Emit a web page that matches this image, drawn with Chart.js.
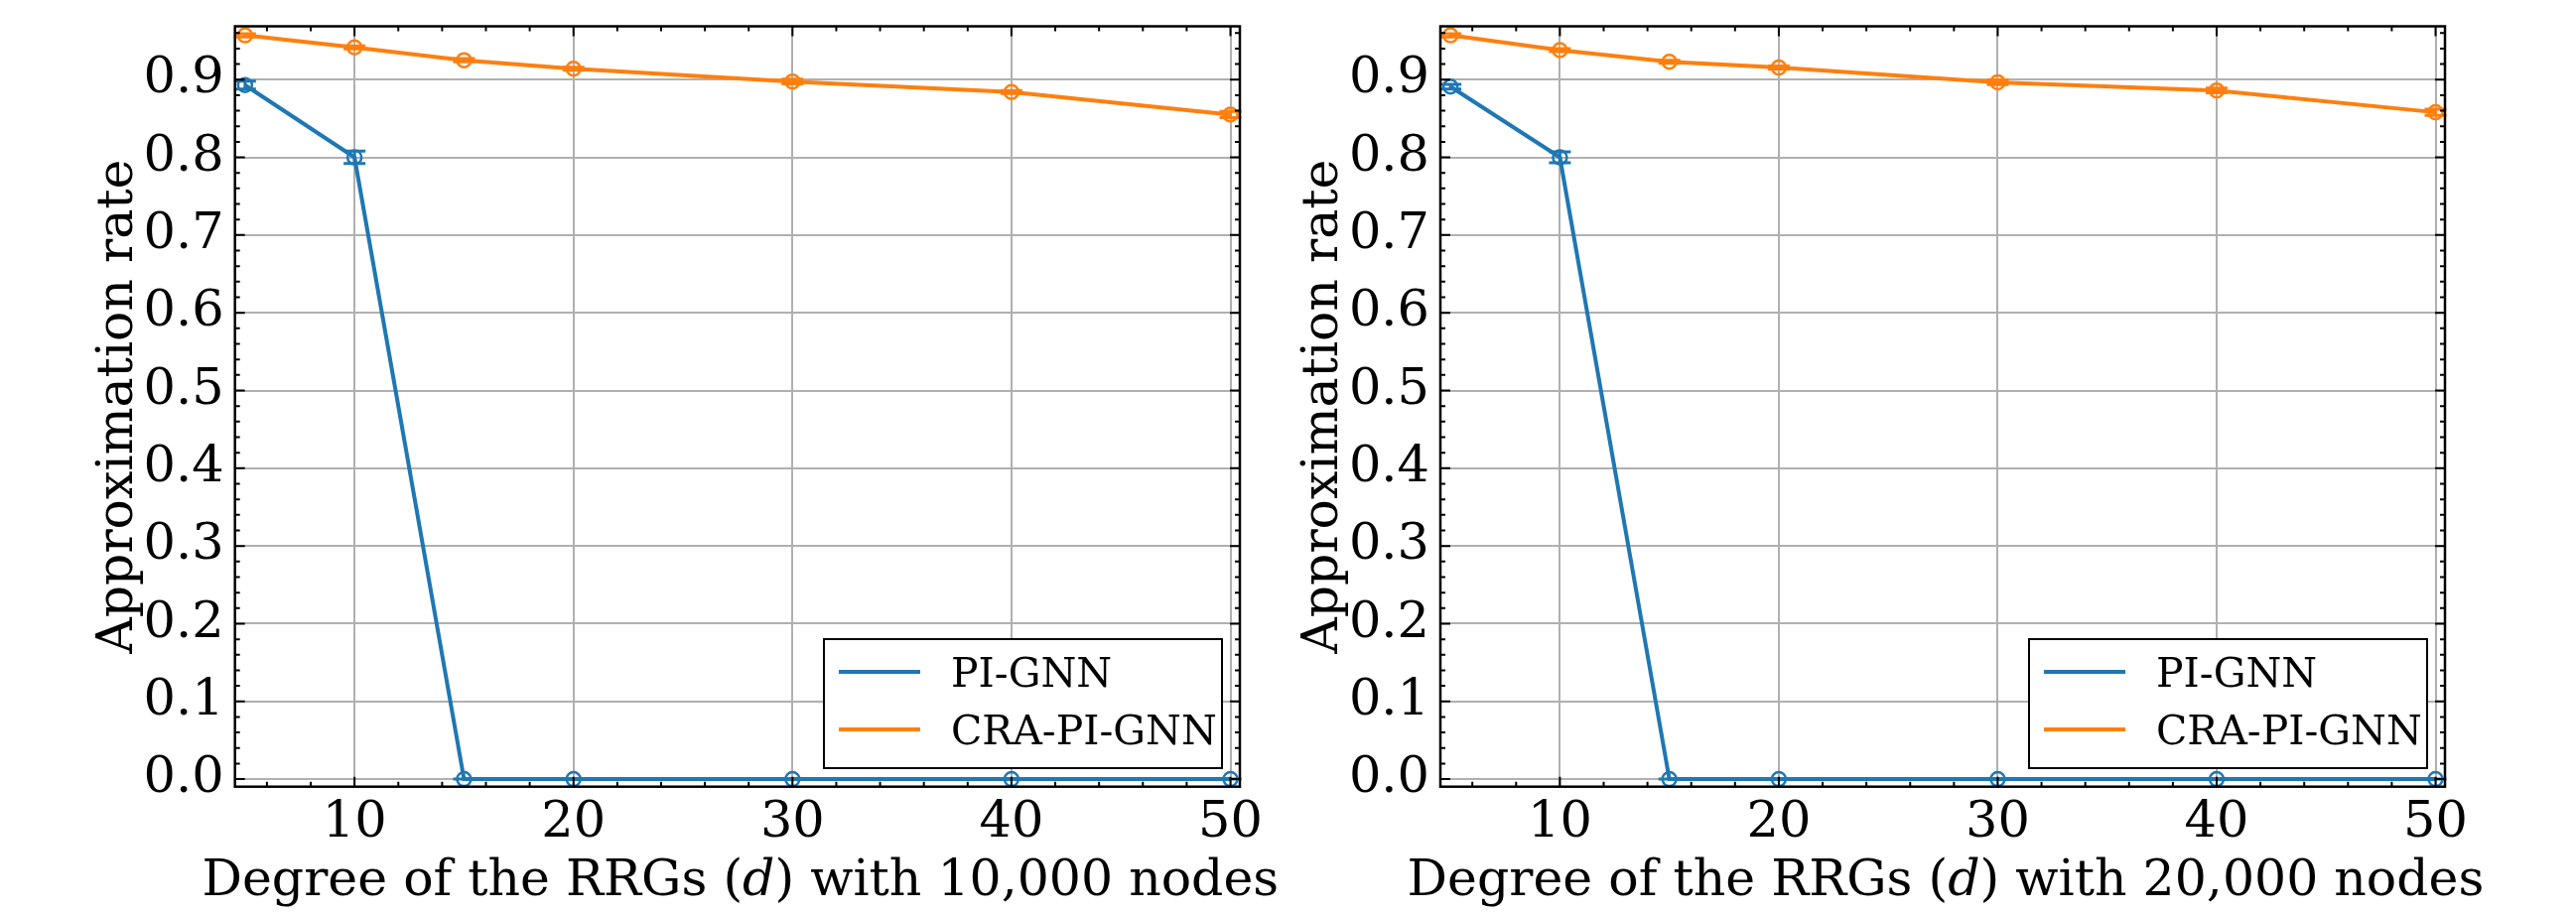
<!DOCTYPE html>
<html>
<head>
<meta charset="utf-8">
<script src="https://cdn.jsdelivr.net/npm/chart.js@4.4.1/dist/chart.umd.min.js"></script>
<style>
html, body { margin: 0; padding: 0; background: #fff; }
#wrap { position: relative; width: 2595px; height: 922px; }
canvas { position: absolute; top: 0; }
</style>
</head>
<body>
<div id="wrap">
  <canvas id="left" width="1297" height="922" style="left:0px"></canvas>
  <canvas id="right" width="1298" height="922" style="left:1297px"></canvas>
</div>
<script>
// data
const degrees = [5, 10, 15, 20, 30, 40, 50];
const xTicks = [10, 20, 30, 40, 50];
const yTicks = [0, 0.1, 0.2, 0.3, 0.4, 0.5, 0.6, 0.7, 0.8, 0.9];
const seriesNames = ['PI-GNN', 'CRA-PI-GNN'];

const piGnn10k    = [0.893, 0.800, 0, 0, 0, 0, 0];
const piGnn10kErr = [0.005, 0.008, 0, 0, 0, 0, 0];
const cra10k      = [0.957, 0.9415, 0.925, 0.914, 0.8975, 0.884, 0.855];
const cra10kErr   = [0.002, 0.002, 0.002, 0.002, 0.003, 0.002, 0.004];

const piGnn20k    = [0.891, 0.800, 0, 0, 0, 0, 0];
const piGnn20kErr = [0.003, 0.007, 0, 0, 0, 0, 0];
const cra20k      = [0.957, 0.938, 0.923, 0.9155, 0.8966, 0.886, 0.858];
const cra20kErr   = [0.002, 0.002, 0.002, 0.002, 0.003, 0.003, 0.004];

const BLUE = '#1f77b4', ORANGE = '#ff7f0e';
const FONT = '"DejaVu Serif", serif';

const xMin = 4.54, xMax = 50.43;
const yMin = -0.0097, yMax = 0.9686;

function drawTicks(ctx, scale, vals, len, side, area) {
    vals.forEach(v => {
        if (v < scale.min || v > scale.max) return;
        const p = scale.getPixelForValue(v);
        ctx.beginPath();
        if (side === 'x') {
            ctx.moveTo(p, area.bottom); ctx.lineTo(p, area.bottom - len);
            ctx.moveTo(p, area.top); ctx.lineTo(p, area.top + len);
        } else {
            ctx.moveTo(area.left, p); ctx.lineTo(area.left + len, p);
            ctx.moveTo(area.right, p); ctx.lineTo(area.right - len, p);
        }
        ctx.stroke();
    });
}

const decor = {
    id: 'decor',
    beforeDatasetsDraw(chart, args, opts) {
        const ctx = chart.ctx;
        const xs = chart.scales.x, ys = chart.scales.y;
        ctx.save();
        opts.errors.forEach((errs, i) => {
            const ds = chart.data.datasets[i];
            ctx.strokeStyle = ds.borderColor;
            ctx.lineWidth = 3;
            ds.data.forEach((pt, j) => {
                const px = xs.getPixelForValue(pt.x);
                const top = ys.getPixelForValue(pt.y + errs[j]);
                const bot = ys.getPixelForValue(pt.y - errs[j]);
                ctx.beginPath();
                ctx.moveTo(px, top); ctx.lineTo(px, bot);
                ctx.moveTo(px - 11, top); ctx.lineTo(px + 11, top);
                ctx.moveTo(px - 11, bot); ctx.lineTo(px + 11, bot);
                ctx.stroke();
            });
        });
        ctx.restore();
    },
    afterDraw(chart, args, opts) {
        const ctx = chart.ctx;
        const a = chart.chartArea;
        const xs = chart.scales.x, ys = chart.scales.y;
        ctx.save();
        // ticks inside, all four sides
        ctx.strokeStyle = '#000';
        ctx.lineWidth = 2;
        const xMinor = [], yMinor = [];
        for (let v = 2; v <= 50; v += 2) if (v % 10) xMinor.push(v);
        for (let k = 0; k <= 48; k++) if (k % 5) yMinor.push(k * 0.02);
        drawTicks(ctx, xs, xTicks, 10, 'x', a);
        drawTicks(ctx, xs, xMinor, 5, 'x', a);
        drawTicks(ctx, ys, yTicks, 10, 'y', a);
        drawTicks(ctx, ys, yMinor, 5, 'y', a);
        // frame
        ctx.lineWidth = 2.5;
        ctx.strokeRect(a.left, a.top, a.right - a.left, a.bottom - a.top);

        // x title with italic d
        ctx.fillStyle = '#000';
        ctx.textBaseline = 'alphabetic';
        ctx.textAlign = 'left';
        const parts = opts.xTitle;
        const fz = '50.5px ';
        let total = 0;
        parts.forEach(p => { ctx.font = (p[1] ? 'italic ' : '') + fz + FONT; total += ctx.measureText(p[0]).width; });
        let x = (a.left + a.right) / 2 - total / 2 + 3;
        parts.forEach(p => {
            ctx.font = (p[1] ? 'italic ' : '') + fz + FONT;
            ctx.fillText(p[0], x, 902);
            x += ctx.measureText(p[0]).width;
        });

        // y title
        ctx.save();
        ctx.translate(a.left - 104, (a.top + a.bottom) / 2);
        ctx.rotate(-Math.PI / 2);
        ctx.textAlign = 'center';
        ctx.font = fz + FONT;
        ctx.fillText('Approximation rate', 0, 0);
        ctx.restore();

        // legend
        const w = 401, h = 130;
        const lx = a.right - 18 - w, ly = a.bottom - 18.7 - h;
        ctx.fillStyle = '#fff';
        ctx.fillRect(lx, ly, w, h);
        ctx.strokeStyle = '#000';
        ctx.lineWidth = 2;
        ctx.strokeRect(lx, ly, w, h);
        ctx.font = '41px ' + FONT;
        ctx.textAlign = 'left';
        chart.data.datasets.forEach((ds, i) => {
            const yy = ly + 33 + i * 58;
            ctx.strokeStyle = ds.borderColor;
            ctx.lineWidth = 4;
            ctx.beginPath();
            ctx.moveTo(lx + 15, yy); ctx.lineTo(lx + 97, yy);
            ctx.stroke();
            ctx.fillStyle = '#000';
            ctx.fillText(ds.label, lx + 128, yy + 14.8);
        });
        ctx.restore();
    }
};

function makeChart(id, pi, piErr, cra, craErr, nodes, padRight) {
    const pts = arr => degrees.map((d, i) => ({ x: d, y: arr[i] }));
    const line = (label, color, arr) => ({
        label: label,
        data: pts(arr),
        borderColor: color,
        backgroundColor: 'rgba(0,0,0,0)',
        borderWidth: 4,
        pointRadius: 7,
        pointBorderWidth: 2.5,
        pointBackgroundColor: 'rgba(0,0,0,0)',
        pointBorderColor: color,
        tension: 0,
        clip: false
    });
    return new Chart(document.getElementById(id), {
        type: 'line',
        data: {
            datasets: [line(seriesNames[0], BLUE, pi), line(seriesNames[1], ORANGE, cra)]
        },
        options: {
            responsive: false,
            animation: false,
            devicePixelRatio: 1,
            layout: { padding: { left: 0, right: padRight, top: 26.5, bottom: 0 } },
            plugins: {
                legend: { display: false },
                tooltip: { enabled: false },
                decor: {
                    errors: [piErr, craErr],
                    xTitle: [['Degree of the RRGs (', false], ['d', true], [') with ' + nodes + ' nodes', false]]
                }
            },
            scales: {
                x: {
                    type: 'linear',
                    min: xMin, max: xMax,
                    afterBuildTicks: s => { s.ticks = xTicks.map(v => ({ value: v })); },
                    afterFit: s => { s.height = 922 - 792.7; s.paddingLeft = 0; s.paddingRight = 0; },
                    grid: { color: '#b0b0b0', lineWidth: 2, drawTicks: false },
                    border: { display: false },
                    ticks: {
                        autoSkip: false, maxRotation: 0, padding: 6,
                        color: '#000', font: { family: FONT, size: 51 },
                        callback: v => String(v)
                    }
                },
                y: {
                    type: 'linear',
                    min: yMin, max: yMax,
                    afterBuildTicks: s => { s.ticks = yTicks.map(v => ({ value: v })); },
                    afterFit: s => { s.width = id === 'left' ? 236.7 : 154; s.paddingTop = 0; s.paddingBottom = 0; },
                    grid: { color: '#b0b0b0', lineWidth: 2, drawTicks: false },
                    border: { display: false },
                    ticks: {
                        autoSkip: false, padding: 11,
                        color: '#000', font: { family: FONT, size: 51 },
                        callback: v => v.toFixed(1)
                    }
                }
            }
        },
        plugins: [decor]
    });
}

makeChart('left', piGnn10k, piGnn10kErr, cra10k, cra10kErr, '10,000', 1297 - 1249);
makeChart('right', piGnn20k, piGnn20kErr, cra20k, cra20kErr, '20,000', 1298 - 1166);
</script>
</body>
</html>
